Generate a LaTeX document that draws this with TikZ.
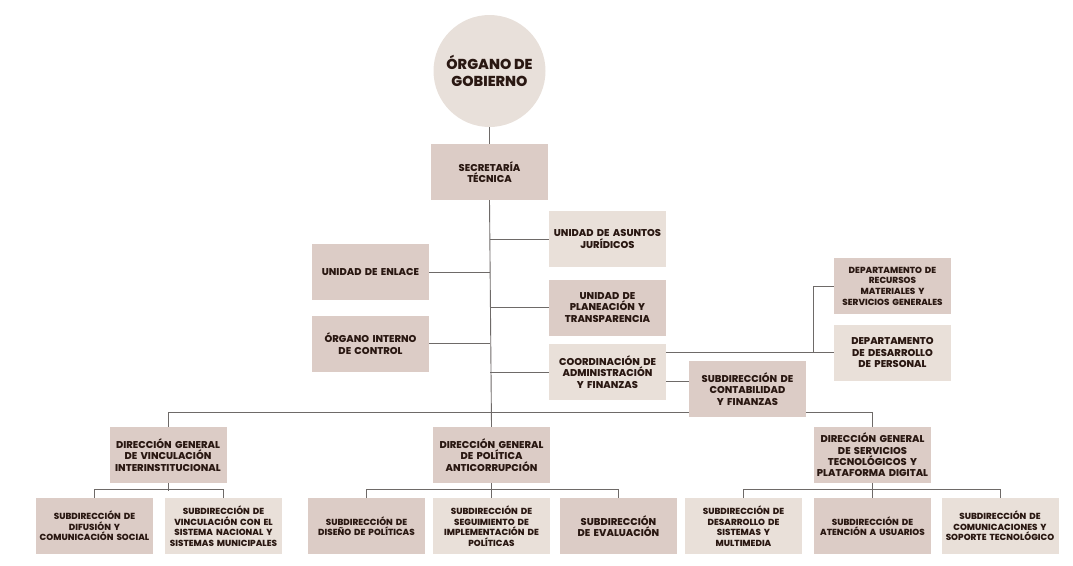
\documentclass[tikz,border=0pt]{standalone}
\usepackage{fontspec}
\setmainfont{Poppins}[BoldFont={Poppins ExtraBold}]
\usepackage{xcolor}
\usepackage{tikz}

\definecolor{circfill}{HTML}{E8E0DA}
\definecolor{darkbox}{HTML}{DCCCC6}
\definecolor{lightbox}{HTML}{E9E0D9}
\definecolor{txt}{HTML}{2A1812}
\definecolor{wire}{HTML}{6E6A68}

\begin{document}
\begin{tikzpicture}[x=1pt, y=-1pt,
		box/.style={rectangle, minimum width=117pt, minimum height=56pt, text width=116pt, align=center,
			inner sep=0.5pt, text=txt, font=\fontsize{8.8}{10.6}\selectfont\bfseries},
		dark/.style={box, fill=darkbox},
		light/.style={box, fill=lightbox},
		mid/.style={font=\fontsize{9.9}{11.4}\selectfont\bfseries},
		wire/.style={draw=wire, line width=0.9pt}]
		\useasboundingbox (0,0) rectangle (1073,565);
		
		\node[circle, fill=circfill, minimum size=112pt, text=txt, align=center,
			font=\fontsize{14.4}{17.5}\selectfont\bfseries] (gob) at (489.5,71) {ÓRGANO DE\\GOBIERNO};
		\node[dark, mid, minimum width=113pt] (sec) at (489.5,172) {SECRETARÍA\\TÉCNICA};
		
		\node[light, mid] (uaj) at (607.5,239) {UNIDAD DE ASUNTOS\\JURÍDICOS};
		\node[dark, mid] (enl) at (370.5,272) {UNIDAD DE ENLACE};
		\node[dark, mid] (upt) at (607.5,307.5) {UNIDAD DE\\PLANEACIÓN Y\\TRANSPARENCIA};
		\node[dark, mid] (oic) at (370.5,343.5) {ÓRGANO INTERNO\\DE CONTROL};
		\node[light, mid] (caf) at (607.5,372) {COORDINACIÓN DE\\ADMINISTRACIÓN\\Y FINANZAS};
		
		\node[dark] (drm) at (892.5,286) {DEPARTAMENTO DE\\RECURSOS\\MATERIALES Y\\SERVICIOS GENERALES};
		\node[light, mid] (ddp) at (892.5,352.5) {DEPARTAMENTO\\DE DESARROLLO\\DE PERSONAL};
		\node[dark, mid] (scf) at (747.5,389) {SUBDIRECCIÓN DE\\CONTABILIDAD\\Y FINANZAS};
		
		\node[dark, mid] (dgv) at (168,455) {DIRECCIÓN GENERAL\\DE VINCULACIÓN\\INTERINSTITUCIONAL};
		\node[dark, mid] (dgp) at (491.5,455) {DIRECCIÓN GENERAL\\DE POLÍTICA\\ANTICORRUPCIÓN};
		\node[dark, mid] (dgs) at (872.5,455) {DIRECCIÓN GENERAL\\DE SERVICIOS\\TECNOLÓGICOS Y\\PLATAFORMA DIGITAL};
		
		\node[dark] (sdc) at (94.5,526) {SUBDIRECCIÓN DE\\DIFUSIÓN Y\\COMUNICACIÓN SOCIAL};
		\node[light] (svs) at (223.5,526) {SUBDIRECCIÓN DE\\VINCULACIÓN CON EL\\SISTEMA NACIONAL Y\\SISTEMAS MUNICIPALES};
		\node[dark] (sdp) at (366.5,526) {SUBDIRECCIÓN DE\\DISEÑO DE POLÍTICAS};
		\node[light] (ssi) at (491.5,526) {SUBDIRECCIÓN DE\\SEGUIMIENTO DE\\IMPLEMENTACIÓN DE\\POLÍTICAS};
		\node[dark, mid] (sev) at (618.5,526) {SUBDIRECCIÓN\\DE EVALUACIÓN};
		\node[light] (sds) at (743.5,526) {SUBDIRECCIÓN DE\\DESARROLLO DE\\SISTEMAS Y\\MULTIMEDIA};
		\node[dark] (sau) at (872.5,526) {SUBDIRECCIÓN DE\\ATENCIÓN A USUARIOS};
		\node[light] (scs) at (1000,526) {SUBDIRECCIÓN DE\\COMUNICACIONES Y\\SOPORTE TECNOLÓGICO};
		
		\coordinate (bus) at (489.5,412);
		\draw[wire] (gob.south) -- (sec.north);
		\draw[wire] (sec.south) -- (dgp.north);
		\draw[wire] (uaj.west) -- (uaj.west -| sec.south);
		\draw[wire] (enl.east) -- (enl.east -| sec.south);
		\draw[wire] (upt.west) -- (upt.west -| sec.south);
		\draw[wire] (oic.east) -- (oic.east -| sec.south);
		\draw[wire] (caf.west) -- (caf.west -| sec.south);
		
		\draw[wire] (ddp.west -| caf.east) -- (ddp.west);
		\draw[wire] (ddp.west) ++(-20,0) |- (drm.west);
		\draw[wire] ([yshift=8pt]scf.west -| caf.east) -- ([yshift=8pt]scf.west);
		
		\draw[wire] (dgv.north) |- (scf.west |- bus);
		\draw[wire] (scf.east |- bus) -| (dgs.north);
		
		\draw[wire] (dgv.south) -- ++(0,8);
		\draw[wire] (sdc.north) -- ++(0,-8) -| (svs.north);
		\draw[wire] (dgp.south) -- (ssi.north);
		\draw[wire] (sdp.north) -- ++(0,-8) -| (sev.north);
		\draw[wire] (dgs.south) -- (sau.north);
		\draw[wire] (sds.north) -- ++(0,-8) -| (scs.north);
	\end{tikzpicture}
\end{document}
